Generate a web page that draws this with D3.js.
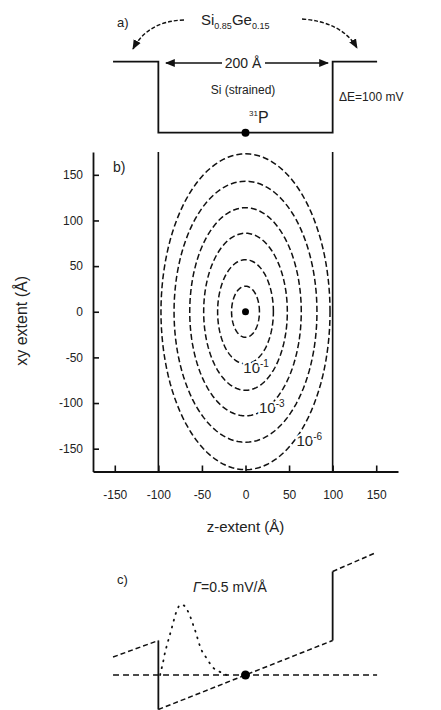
<!DOCTYPE html>
<html>
<head>
<meta charset="utf-8">
<script src="https://cdn.jsdelivr.net/npm/d3@7"></script>
<style>
  body { margin: 0; background: #fff; }
  text { font-family: "Liberation Sans", Arial, sans-serif; fill: #222; }
</style>
</head>
<body>
<script>
// panel a: quantum well profile (z in Å, energy in mV)
const wellZ = [-152, -100, -100, 100, 100, 151];
const wellE = [100, 100, 0, 0, 100, 100];

// panel b: contour semi-axes (Å) and labels
const contourZ = [16, 32, 48, 64, 82, 97];
const contourXY = [28, 57, 86, 114, 143, 173];
const contourExp = ["-1", "-3", "-6"];
const labelZ = [9, 27, 70];
const labelXY = [-60, -104, -140];
const xTicks = [-150, -100, -50, 0, 50, 100, 150];
const yTicks = [-150, -100, -50, 0, 50, 100, 150];
const barrierZ = [-100, 100];

// panel c: tilted potential (mV) and wavefunction (dotted)
const potZ = [-152, -100, -100, 100, 100, 149];
const potV = [26, 50, -50, 50, 150, 177];
const waveZ = [-98, -96.2, -94.4, -92.4, -90.5, -85.9, -84, -81.7, -79, -74, -71, -63.5, -60.6, -57.2, -54.9, -52.2, -43.4, -37.7, -31.2, -21.6];
const waveV = [0, 9.9, 19.6, 32.4, 41.6, 62.2, 71, 81.9, 93, 102, 101, 84.9, 74.6, 62.2, 52.5, 41.6, 22, 11.3, 5.9, 0];

const W = 441, H = 710;
const svg = d3.select('body').append('svg')
  .attr('width', W)
  .attr('height', H);

const defs = svg.append('defs');
defs.append('marker')
  .attr('id', 'arr')
  .attr('viewBox', '0 0 10 10')
  .attr('refX', 9).attr('refY', 5)
  .attr('markerWidth', 7).attr('markerHeight', 7)
  .attr('orient', 'auto')
  .append('path').attr('d', 'M0,1 L10,5 L0,9 Z').attr('fill', '#111');

// shared z scale
const x = d3.scaleLinear().domain([-175, 175]).range([93, 398]);

// ---------- panel a ----------
const yA = d3.scaleLinear().domain([0, 100]).range([132.7, 61.7]);
const lineA = d3.line().x(d => x(d[0])).y(d => yA(d[1]));
svg.append('path')
  .attr('d', lineA(d3.zip(wellZ, wellE)))
  .attr('fill', 'none').attr('stroke', '#111').attr('stroke-width', 1.8);
svg.append('circle').attr('cx', x(0)).attr('cy', yA(0)).attr('r', 4).attr('fill', '#000');

svg.append('text').attr('x', 117).attr('y', 27).attr('font-size', 13).text('a)');
const sige = svg.append('text').attr('x', 201).attr('y', 25).attr('font-size', 15);
sige.append('tspan').text('Si');
sige.append('tspan').attr('font-size', 9).attr('dy', 4).text('0.85');
sige.append('tspan').attr('dy', -4).text('Ge');
sige.append('tspan').attr('font-size', 9).attr('dy', 4).text('0.15');

svg.append('path').attr('d', 'M184,20 Q148,21 133,49')
  .attr('fill', 'none').attr('stroke', '#111').attr('stroke-width', 1.4)
  .attr('stroke-dasharray', '4,2').attr('marker-end', 'url(#arr)');
svg.append('path').attr('d', 'M302,19 Q342,22 357,48')
  .attr('fill', 'none').attr('stroke', '#111').attr('stroke-width', 1.4)
  .attr('stroke-dasharray', '4,2').attr('marker-end', 'url(#arr)');

svg.append('text').attr('x', 243).attr('y', 68).attr('font-size', 14)
  .attr('text-anchor', 'middle').text('200 Å');
svg.append('line').attr('x1', 222).attr('y1', 63).attr('x2', 166).attr('y2', 63)
  .attr('stroke', '#111').attr('stroke-width', 1.4).attr('marker-end', 'url(#arr)');
svg.append('line').attr('x1', 265).attr('y1', 63).attr('x2', 328).attr('y2', 63)
  .attr('stroke', '#111').attr('stroke-width', 1.4).attr('marker-end', 'url(#arr)');
svg.append('text').attr('x', 243).attr('y', 94).attr('font-size', 12)
  .attr('text-anchor', 'middle').text('Si (strained)');
const p31 = svg.append('text').attr('x', 249).attr('y', 123).attr('font-size', 16);
p31.append('tspan').attr('font-size', 8).attr('dy', -7).text('31');
p31.append('tspan').attr('dy', 7).text('P');
svg.append('text').attr('x', 339).attr('y', 101).attr('font-size', 12).text('ΔE=100 mV');

// ---------- panel b ----------
const y = d3.scaleLinear().domain([-175, 175]).range([471.5, 152]);
const g = svg.append('g');

const fmt = d => String(d);
const xAxis = g.append('g')
  .attr('transform', `translate(0,${y(-175)})`)
  .call(d3.axisBottom(x).tickValues(xTicks).tickSizeInner(-6).tickSizeOuter(0).tickPadding(19).tickFormat(fmt));
const yAxis = g.append('g')
  .attr('transform', `translate(${x(-175)},0)`)
  .call(d3.axisLeft(y).tickValues(yTicks).tickSizeInner(-6).tickSizeOuter(0).tickPadding(10).tickFormat(fmt));
[xAxis, yAxis].forEach(a => {
  a.select('.domain').attr('stroke', '#111').attr('stroke-width', 1.8);
  a.selectAll('.tick line').attr('stroke', '#111').attr('stroke-width', 1.6);
  a.selectAll('.tick text').attr('font-size', 12).attr('fill', '#333')
    .attr('font-family', '"Liberation Sans", Arial, sans-serif');
});

g.selectAll('.barrier')
  .data(barrierZ)
  .enter().append('line')
  .attr('class', 'barrier')
  .attr('x1', d => x(d)).attr('x2', d => x(d))
  .attr('y1', y(175)).attr('y2', y(-175))
  .attr('stroke', '#111').attr('stroke-width', 1.6);

const angles = d3.range(0, 361, 3).map(a => a * Math.PI / 180);
const ellipse = d3.line().x(d => x(d[0])).y(d => y(d[1]));
g.selectAll('.contour')
  .data(d3.zip(contourZ, contourXY))
  .enter().append('path')
  .attr('class', 'contour')
  .attr('d', d => ellipse(angles.map(t => [d[0] * Math.cos(t), d[1] * Math.sin(t)])))
  .attr('fill', 'none').attr('stroke', '#111').attr('stroke-width', 1.5)
  .attr('stroke-dasharray', '6,3');

const clab = g.selectAll('.clabel')
  .data(contourExp)
  .enter().append('text')
  .attr('class', 'clabel')
  .attr('x', (d, i) => x(labelZ[i]) - 10).attr('y', (d, i) => y(labelXY[i]) + 6)
  .attr('font-size', 15).attr('fill', '#666')
  .attr('stroke', '#fff').attr('stroke-width', 4).attr('paint-order', 'stroke');
clab.append('tspan').text('10');
clab.append('tspan').attr('font-size', 10).attr('dy', -6).text(d => d);

g.append('circle').attr('cx', x(0)).attr('cy', y(0)).attr('r', 3.5).attr('fill', '#000');

g.append('text').attr('x', 113).attr('y', 172).attr('font-size', 14).text('b)');
g.append('text')
  .attr('transform', `translate(27,${y(-10)}) rotate(-90)`)
  .attr('text-anchor', 'middle').attr('font-size', 16).text('xy extent (Å)');
g.append('text').attr('x', x(0)).attr('y', 532).attr('text-anchor', 'middle')
  .attr('font-size', 15).text('z-extent (Å)');

// ---------- panel c ----------
const yC = d3.scaleLinear().domain([0, 150]).range([675, 571.5]);
const pts = d3.zip(potZ, potV);
for (let i = 0; i < pts.length - 1; i++) {
  const a = pts[i], b = pts[i + 1];
  const vertical = a[0] === b[0];
  svg.append('line')
    .attr('x1', x(a[0])).attr('y1', yC(a[1]))
    .attr('x2', x(b[0])).attr('y2', yC(b[1]))
    .attr('stroke', '#111').attr('stroke-width', vertical ? 1.8 : 1.5)
    .attr('stroke-dasharray', vertical ? null : '5,3');
}
svg.append('line')
  .attr('x1', x(-152)).attr('x2', x(151))
  .attr('y1', yC(0)).attr('y2', yC(0))
  .attr('stroke', '#111').attr('stroke-width', 1.5).attr('stroke-dasharray', '6,4');
svg.append('path')
  .attr('d', d3.line().x(d => x(d[0])).y(d => yC(d[1])).curve(d3.curveMonotoneX)(d3.zip(waveZ, waveV)))
  .attr('fill', 'none').attr('stroke', '#111').attr('stroke-width', 1.8)
  .attr('stroke-dasharray', '1,6').attr('stroke-linecap', 'round');
svg.append('circle').attr('cx', x(0)).attr('cy', yC(0)).attr('r', 4.5).attr('fill', '#000');

svg.append('text').attr('x', 117).attr('y', 584).attr('font-size', 13).text('c)');
const gam = svg.append('text').attr('x', 193).attr('y', 592).attr('font-size', 14);
gam.append('tspan').attr('font-style', 'italic').text('Γ');
gam.append('tspan').text('=0.5 mV/Å');
</script>
</body>
</html>
